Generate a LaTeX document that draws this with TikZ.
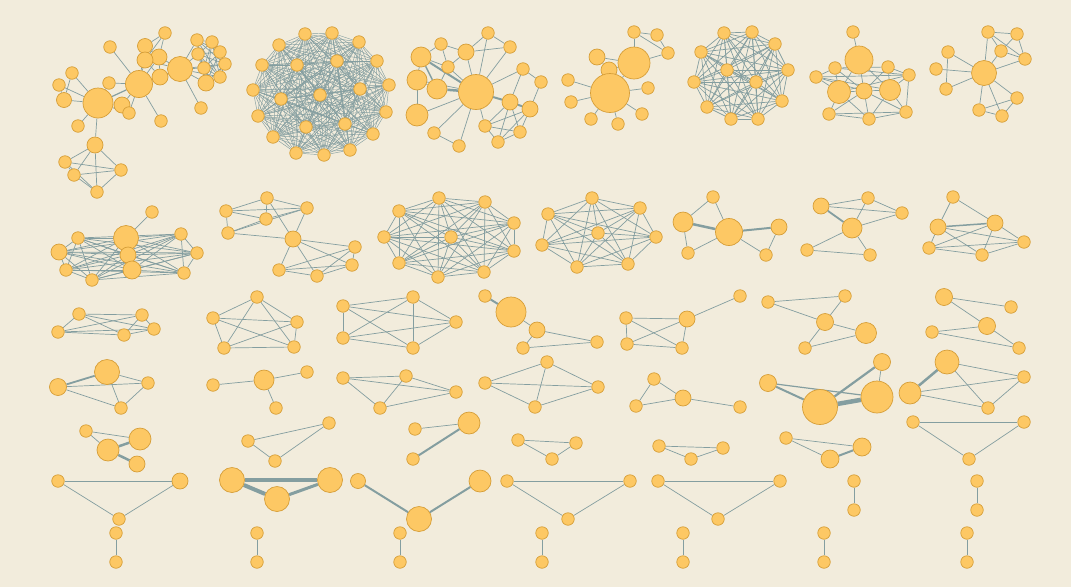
\documentclass[tikz,border=0pt]{standalone}
\usepackage{tikz}

\definecolor{bgpaper}{RGB}{242,236,220}
\definecolor{nodefill}{RGB}{253,200,100}
\definecolor{nodeline}{RGB}{214,158,56}
\definecolor{linkcol}{RGB}{132,158,160}

\pgfdeclarelayer{paper}
\pgfdeclarelayer{edges}
\pgfsetlayers{paper,edges,main}

\begin{document}
\begin{tikzpicture}[
    x=1pt, y=-1pt,
    vtx/.style={circle, draw=nodeline, fill=nodefill, line width=0.7pt, inner sep=0pt, minimum size=#1},
    vtx/.default=12.5pt,
    link/.style={draw=linkcol, line width=0.7pt},
    heavy/.style={link, line width=#1},
    heavy/.default=2.5pt,
    dense/.style={link, line width=0.45pt}
]
    \useasboundingbox (0,0) rectangle (1071,587);
    \begin{pgfonlayer}{paper}
        \fill[bgpaper] (0,0) rectangle (1071,587);
    \end{pgfonlayer}

    % --- row 1 ---
    \node (a1) [vtx] at (165,33) {};
    \node (a2) [vtx] at (110,47) {};
    \node (a3) [vtx=15pt] at (145,46) {};
    \node (a4) [vtx=16pt] at (159,57) {};
    \node (a5) [vtx=16pt] at (145,60) {};
    \node (a6) [vtx=25pt] at (180,69) {};
    \node (a7) [vtx=16pt] at (160,77) {};
    \node (a8) [vtx=27pt] at (139,84) {};
    \node (a9) [vtx] at (109,83) {};
    \node (a10) [vtx=30pt] at (98,103) {};
    \node (a11) [vtx=16pt] at (122,105) {};
    \node (a12) [vtx] at (129,113) {};
    \node (a13) [vtx] at (161,121) {};
    \node (a14) [vtx] at (72,73) {};
    \node (a15) [vtx] at (59,85) {};
    \node (a16) [vtx=15pt] at (64,100) {};
    \node (a17) [vtx] at (78,126) {};
    \node (a18) [vtx=16pt] at (95,145) {};
    \node (a19) [vtx] at (65,162) {};
    \node (a20) [vtx] at (74,175) {};
    \node (a21) [vtx] at (121,170) {};
    \node (a22) [vtx] at (97,192) {};
    \node (a23) [vtx] at (197,40) {};
    \node (a24) [vtx] at (212,42) {};
    \node (a25) [vtx] at (198,54) {};
    \node (a26) [vtx] at (220,52) {};
    \node (a27) [vtx] at (225,64) {};
    \node (a28) [vtx] at (204,68) {};
    \node (a29) [vtx] at (220,77) {};
    \node (a30) [vtx=16pt] at (206,83) {};
    \node (a31) [vtx] at (201,108) {};

    \node (b1) [vtx] at (305,34) {};
    \node (b2) [vtx] at (332,33) {};
    \node (b3) [vtx] at (359,42) {};
    \node (b4) [vtx] at (377,61) {};
    \node (b5) [vtx] at (389,85) {};
    \node (b6) [vtx] at (386,112) {};
    \node (b7) [vtx] at (373,134) {};
    \node (b8) [vtx] at (350,150) {};
    \node (b9) [vtx] at (324,155) {};
    \node (b10) [vtx] at (296,153) {};
    \node (b11) [vtx] at (273,137) {};
    \node (b12) [vtx] at (258,116) {};
    \node (b13) [vtx] at (253,90) {};
    \node (b14) [vtx] at (262,65) {};
    \node (b15) [vtx] at (279,45) {};
    \node (b16) [vtx] at (297,65) {};
    \node (b17) [vtx] at (337,61) {};
    \node (b18) [vtx] at (360,89) {};
    \node (b19) [vtx] at (320,95) {};
    \node (b20) [vtx] at (281,99) {};
    \node (b21) [vtx] at (306,127) {};
    \node (b22) [vtx] at (345,124) {};

    \node (c1) [vtx] at (488,33) {};
    \node (c2) [vtx] at (441,44) {};
    \node (c3) [vtx] at (510,47) {};
    \node (c4) [vtx=20pt] at (421,57) {};
    \node (c5) [vtx=16pt] at (466,52) {};
    \node (c6) [vtx] at (448,67) {};
    \node (c7) [vtx=20pt] at (417,80) {};
    \node (c8) [vtx=20pt] at (437,89) {};
    \node (c9) [vtx=35pt] at (476,92) {};
    \node (c10) [vtx] at (523,69) {};
    \node (c11) [vtx] at (541,82) {};
    \node (c12) [vtx=16pt] at (510,102) {};
    \node (c13) [vtx=16pt] at (530,109) {};
    \node (c14) [vtx=22pt] at (417,115) {};
    \node (c15) [vtx] at (485,126) {};
    \node (c16) [vtx] at (520,132) {};
    \node (c17) [vtx] at (434,133) {};
    \node (c18) [vtx] at (498,142) {};
    \node (c19) [vtx] at (459,146) {};

    \node (d1) [vtx] at (634,32) {};
    \node (d2) [vtx] at (657,35) {};
    \node (d3) [vtx] at (668,53) {};
    \node (d4) [vtx=16pt] at (597,57) {};
    \node (d5) [vtx=32pt] at (634,63) {};
    \node (d6) [vtx=16pt] at (609,70) {};
    \node (d7) [vtx=39pt] at (610,93) {};
    \node (d8) [vtx] at (568,80) {};
    \node (d9) [vtx] at (571,102) {};
    \node (d10) [vtx] at (648,88) {};
    \node (d11) [vtx] at (591,119) {};
    \node (d12) [vtx] at (618,124) {};
    \node (d13) [vtx] at (642,114) {};

    \node (e1) [vtx] at (724,33) {};
    \node (e2) [vtx] at (752,32) {};
    \node (e3) [vtx] at (775,44) {};
    \node (e4) [vtx] at (701,52) {};
    \node (e5) [vtx] at (727,70) {};
    \node (e6) [vtx] at (788,70) {};
    \node (e7) [vtx] at (694,82) {};
    \node (e8) [vtx] at (756,82) {};
    \node (e9) [vtx] at (782,101) {};
    \node (e10) [vtx] at (707,107) {};
    \node (e11) [vtx] at (731,119) {};
    \node (e12) [vtx] at (758,119) {};

    \node (f1) [vtx] at (853,32) {};
    \node (f2) [vtx=28pt] at (859,60) {};
    \node (f3) [vtx] at (835,68) {};
    \node (f4) [vtx] at (888,67) {};
    \node (f5) [vtx] at (816,77) {};
    \node (f6) [vtx] at (909,75) {};
    \node (f7) [vtx=23pt] at (839,92) {};
    \node (f8) [vtx=16pt] at (864,91) {};
    \node (f9) [vtx=21pt] at (890,90) {};
    \node (f10) [vtx] at (829,114) {};
    \node (f11) [vtx] at (869,119) {};
    \node (f12) [vtx] at (906,112) {};

    \node (g1) [vtx] at (988,32) {};
    \node (g2) [vtx] at (1017,34) {};
    \node (g3) [vtx] at (1001,51) {};
    \node (g4) [vtx] at (1025,59) {};
    \node (g5) [vtx] at (948,52) {};
    \node (g6) [vtx] at (936,69) {};
    \node (g7) [vtx=25pt] at (984,73) {};
    \node (g8) [vtx] at (946,89) {};
    \node (g9) [vtx] at (1017,98) {};
    \node (g10) [vtx] at (979,110) {};
    \node (g11) [vtx] at (1002,116) {};

    % --- row 2 ---
    \node (h1) [vtx] at (152,212) {};
    \node (h2) [vtx] at (78,238) {};
    \node (h3) [vtx=25pt] at (126,238) {};
    \node (h4) [vtx] at (181,234) {};
    \node (h5) [vtx=16pt] at (59,252) {};
    \node (h6) [vtx=16pt] at (128,255) {};
    \node (h7) [vtx] at (197,253) {};
    \node (h8) [vtx] at (66,270) {};
    \node (h9) [vtx=18pt] at (132,270) {};
    \node (h10) [vtx] at (184,273) {};
    \node (h11) [vtx] at (92,280) {};

    \node (i1) [vtx] at (267,198) {};
    \node (i2) [vtx] at (226,211) {};
    \node (i3) [vtx] at (307,208) {};
    \node (i4) [vtx] at (266,219) {};
    \node (i5) [vtx] at (228,233) {};
    \node (i6) [vtx=16pt] at (293,239) {};
    \node (i7) [vtx] at (355,247) {};
    \node (i8) [vtx] at (352,265) {};
    \node (i9) [vtx] at (279,270) {};
    \node (i10) [vtx] at (317,276) {};

    \node (j1) [vtx] at (439,198) {};
    \node (j2) [vtx] at (485,202) {};
    \node (j3) [vtx] at (399,211) {};
    \node (j4) [vtx] at (514,223) {};
    \node (j5) [vtx] at (384,237) {};
    \node (j6) [vtx] at (451,237) {};
    \node (j7) [vtx] at (514,251) {};
    \node (j8) [vtx] at (399,263) {};
    \node (j9) [vtx] at (484,272) {};
    \node (j10) [vtx] at (438,277) {};

    \node (k1) [vtx] at (592,198) {};
    \node (k2) [vtx] at (640,208) {};
    \node (k3) [vtx] at (548,214) {};
    \node (k4) [vtx] at (598,233) {};
    \node (k5) [vtx] at (656,237) {};
    \node (k6) [vtx] at (542,245) {};
    \node (k7) [vtx] at (577,267) {};
    \node (k8) [vtx] at (628,264) {};

    \node (l1) [vtx] at (713,197) {};
    \node (l2) [vtx=20pt] at (683,222) {};
    \node (l3) [vtx=27pt] at (729,232) {};
    \node (l4) [vtx=16pt] at (779,227) {};
    \node (l5) [vtx] at (688,253) {};
    \node (l6) [vtx] at (766,255) {};

    \node (m1) [vtx=16pt] at (821,206) {};
    \node (m2) [vtx] at (868,198) {};
    \node (m3) [vtx] at (902,213) {};
    \node (m4) [vtx=20pt] at (852,228) {};
    \node (m5) [vtx] at (807,250) {};
    \node (m6) [vtx] at (870,255) {};

    \node (n1) [vtx] at (953,197) {};
    \node (n2) [vtx=16pt] at (938,227) {};
    \node (n3) [vtx=16pt] at (995,223) {};
    \node (n4) [vtx] at (929,248) {};
    \node (n5) [vtx] at (982,255) {};
    \node (n6) [vtx] at (1024,242) {};

    % --- row 3 ---
    \node (o1) [vtx] at (79,314) {};
    \node (o2) [vtx] at (142,315) {};
    \node (o3) [vtx] at (58,332) {};
    \node (o4) [vtx] at (124,335) {};
    \node (o5) [vtx] at (154,329) {};

    \node (p1) [vtx] at (257,297) {};
    \node (p2) [vtx] at (213,318) {};
    \node (p3) [vtx] at (297,322) {};
    \node (p4) [vtx] at (224,348) {};
    \node (p5) [vtx] at (294,347) {};

    \node (q1) [vtx] at (413,297) {};
    \node (q2) [vtx] at (343,306) {};
    \node (q3) [vtx] at (456,322) {};
    \node (q4) [vtx] at (343,338) {};
    \node (q5) [vtx] at (413,348) {};

    \node (r1) [vtx] at (485,296) {};
    \node (r2) [vtx=30pt] at (511,312) {};
    \node (r3) [vtx=16pt] at (537,330) {};
    \node (r4) [vtx] at (523,348) {};
    \node (r5) [vtx] at (597,342) {};

    \node (s1) [vtx] at (740,296) {};
    \node (s2) [vtx] at (626,318) {};
    \node (s3) [vtx=16pt] at (687,319) {};
    \node (s4) [vtx] at (627,344) {};
    \node (s5) [vtx] at (682,348) {};

    \node (t1) [vtx] at (768,302) {};
    \node (t2) [vtx] at (845,296) {};
    \node (t3) [vtx=17pt] at (825,322) {};
    \node (t4) [vtx=21pt] at (866,333) {};
    \node (t5) [vtx] at (805,348) {};

    \node (u1) [vtx=17pt] at (944,297) {};
    \node (u2) [vtx] at (1011,307) {};
    \node (u3) [vtx=17pt] at (987,326) {};
    \node (u4) [vtx] at (932,332) {};
    \node (u5) [vtx] at (1019,348) {};

    % --- row 4 ---
    \node (v1) [vtx=25pt] at (107,372) {};
    \node (v2) [vtx=17pt] at (58,387) {};
    \node (v3) [vtx] at (148,383) {};
    \node (v4) [vtx] at (121,408) {};

    \node (w1) [vtx] at (213,385) {};
    \node (w2) [vtx=20pt] at (264,380) {};
    \node (w3) [vtx] at (307,372) {};
    \node (w4) [vtx] at (276,408) {};

    \node (x1) [vtx] at (343,378) {};
    \node (x2) [vtx] at (406,376) {};
    \node (x3) [vtx] at (456,392) {};
    \node (x4) [vtx] at (380,408) {};

    \node (y1) [vtx] at (547,362) {};
    \node (y2) [vtx] at (485,383) {};
    \node (y3) [vtx] at (598,387) {};
    \node (y4) [vtx] at (535,407) {};

    \node (z1) [vtx] at (654,379) {};
    \node (z2) [vtx=16pt] at (683,398) {};
    \node (z3) [vtx] at (636,406) {};
    \node (z4) [vtx] at (740,407) {};

    \node (za1) [vtx=17pt] at (768,383) {};
    \node (za2) [vtx=17pt] at (882,362) {};
    \node (za3) [vtx=35pt] at (820,407) {};
    \node (za4) [vtx=32pt] at (877,397) {};

    \node (zb1) [vtx=24pt] at (947,362) {};
    \node (zb2) [vtx=22pt] at (910,393) {};
    \node (zb3) [vtx] at (1024,377) {};
    \node (zb4) [vtx] at (988,408) {};

    % --- row 5 ---
    \node (ra1) [vtx] at (86,431) {};
    \node (ra2) [vtx=22pt] at (140,439) {};
    \node (ra3) [vtx=22pt] at (108,450) {};
    \node (ra4) [vtx=16pt] at (137,464) {};

    \node (rb1) [vtx] at (248,441) {};
    \node (rb2) [vtx] at (329,423) {};
    \node (rb3) [vtx] at (275,461) {};

    \node (rc1) [vtx] at (415,429) {};
    \node (rc2) [vtx=22pt] at (469,423) {};
    \node (rc3) [vtx] at (413,459) {};

    \node (rd1) [vtx] at (518,440) {};
    \node (rd2) [vtx] at (576,443) {};
    \node (rd3) [vtx] at (552,459) {};

    \node (re1) [vtx] at (659,446) {};
    \node (re2) [vtx] at (723,448) {};
    \node (re3) [vtx] at (691,459) {};

    \node (rf1) [vtx] at (786,438) {};
    \node (rf2) [vtx=18pt] at (862,447) {};
    \node (rf3) [vtx=18pt] at (830,459) {};

    \node (rg1) [vtx] at (913,422) {};
    \node (rg2) [vtx] at (1024,422) {};
    \node (rg3) [vtx] at (969,459) {};

    % --- row 6 ---
    \node (sa1) [vtx] at (58,481) {};
    \node (sa2) [vtx=16pt] at (180,481) {};
    \node (sa3) [vtx] at (119,519) {};

    \node (sb1) [vtx=25pt] at (232,480) {};
    \node (sb2) [vtx=25pt] at (330,480) {};
    \node (sb3) [vtx=25pt] at (277,499) {};

    \node (sc1) [vtx=15pt] at (358,481) {};
    \node (sc2) [vtx=22pt] at (480,481) {};
    \node (sc3) [vtx=25pt] at (419,519) {};

    \node (sd1) [vtx] at (507,481) {};
    \node (sd2) [vtx] at (630,481) {};
    \node (sd3) [vtx] at (568,519) {};

    \node (se1) [vtx] at (658,481) {};
    \node (se2) [vtx] at (780,481) {};
    \node (se3) [vtx] at (718,519) {};

    \node (sf1) [vtx] at (854,481) {};
    \node (sf2) [vtx] at (854,510) {};
    \node (sg1) [vtx] at (977,481) {};
    \node (sg2) [vtx] at (977,510) {};

    % --- row 7 ---
    \foreach \x [count=\n] in {116,257,400,542,683,824,967} {
        \node (pa\n) [vtx] at (\x,533) {};
        \node (pb\n) [vtx] at (\x,562) {};
    }

    \begin{pgfonlayer}{edges}
        % row 1
        \foreach \u/\v in {a10/a14, a10/a15, a10/a16, a15/a16, a14/a16, a10/a9, a10/a11, a10/a12, a10/a18, a10/a17,
            a8/a2, a8/a3, a8/a4, a8/a5, a8/a7, a8/a11, a8/a12, a8/a13, a8/a6, a8/a9,
            a1/a3, a1/a4, a1/a5, a3/a4, a3/a5, a4/a5, a4/a6, a4/a7, a5/a7, a7/a6, a5/a6,
            a6/a25, a6/a28, a6/a30, a6/a27, a6/a29, a6/a23, a6/a31,
            a18/a19, a18/a20, a18/a21, a18/a22, a19/a20, a19/a21, a20/a21, a20/a22, a21/a22, a19/a22}
            \draw[link] (\u) -- (\v);
        \draw[heavy=1.2pt] (a10) -- (a8);
        \foreach \i in {23,...,30} \foreach \j in {23,...,30} {\ifnum\i<\j \draw[link] (a\i) -- (a\j);\fi}

        \foreach \i in {1,...,22} \foreach \j in {1,...,22} {\ifnum\i<\j \draw[dense] (b\i) -- (b\j);\fi}

        \foreach \u/\v in {c9/c7, c9/c6, c9/c5, c9/c1, c9/c3, c9/c15, c9/c19, c9/c17, c9/c14, c9/c10,
            c4/c2, c4/c7, c4/c6, c2/c5, c2/c6, c5/c1, c5/c3, c1/c3, c5/c6, c7/c8, c7/c14, c8/c6,
            c12/c10, c13/c11, c10/c11, c12/c15, c12/c16, c13/c16, c13/c18, c15/c16, c15/c18,
            c16/c18, c13/c15, c12/c18, c17/c19}
            \draw[link] (\u) -- (\v);
        \draw[heavy=2pt] (c9) -- (c4);
        \draw[heavy] (c9) -- (c8);
        \draw[heavy=1.5pt] (c4) -- (c8);
        \draw[heavy=2pt] (c9) -- (c12);
        \draw[heavy=2pt] (c12) -- (c13);

        \foreach \u/\v in {d7/d8, d7/d9, d7/d10, d7/d11, d7/d12, d7/d13, d7/d6, d7/d5, d4/d5, d5/d1, d5/d3,
            d1/d2, d2/d3, d1/d3, d4/d6, d6/d5}
            \draw[link] (\u) -- (\v);

        \foreach \i in {1,...,12} \foreach \j in {1,...,12} {\ifnum\i<\j \draw[link] (e\i) -- (e\j);\fi}

        \foreach \u/\v in {f1/f2, f2/f7, f2/f8, f2/f9, f3/f5, f3/f6, f3/f4, f4/f6, f5/f6, f5/f7, f5/f8, f5/f9,
            f3/f7, f3/f8, f4/f8, f4/f9, f6/f7, f6/f9, f7/f8, f8/f9, f7/f10, f7/f11, f8/f10, f8/f11,
            f9/f11, f9/f12, f10/f11, f11/f12, f10/f12, f6/f12, f8/f12}
            \draw[link] (\u) -- (\v);

        \foreach \u/\v in {g7/g1, g7/g3, g7/g4, g7/g5, g7/g6, g7/g8, g7/g9, g7/g10, g7/g11, g1/g2, g1/g3,
            g1/g4, g2/g3, g2/g4, g3/g4, g5/g8, g9/g10, g9/g11, g10/g11}
            \draw[link] (\u) -- (\v);

        % row 2
        \draw[link] (h1) -- (h3);
        \foreach \i in {2,...,11} \foreach \j in {2,...,11} {\ifnum\i<\j \draw[link] (h\i) -- (h\j);\fi}

        \foreach \u/\v in {i1/i2, i1/i3, i1/i4, i2/i4, i2/i5, i2/i3, i4/i3, i5/i4, i5/i3, i5/i6, i3/i6, i1/i6,
            i6/i7, i6/i9, i6/i10, i6/i8, i7/i9, i7/i8, i8/i9, i8/i10, i9/i10, i7/i10}
            \draw[link] (\u) -- (\v);

        \foreach \i in {1,...,10} \foreach \j in {1,...,10} {\ifnum\i<\j \draw[link] (j\i) -- (j\j);\fi}
        \foreach \i in {1,...,8} \foreach \j in {1,...,8} {\ifnum\i<\j \draw[link] (k\i) -- (k\j);\fi}

        \foreach \u/\v in {l1/l2, l1/l3, l2/l5, l5/l3, l3/l6, l4/l6}
            \draw[link] (\u) -- (\v);
        \draw[heavy] (l2) -- (l3);
        \draw[heavy=2pt] (l3) -- (l4);

        \foreach \u/\v in {m1/m2, m1/m3, m2/m3, m2/m4, m4/m3, m4/m5, m4/m6, m5/m6}
            \draw[link] (\u) -- (\v);
        \draw[heavy=1.8pt] (m1) -- (m4);

        \foreach \u/\v in {n1/n2, n1/n3, n2/n4, n2/n5, n2/n6, n3/n4, n3/n5, n3/n6, n4/n5, n4/n6, n5/n6}
            \draw[link] (\u) -- (\v);
        \draw[heavy=1.5pt] (n2) -- (n3);

        % row 3
        \foreach \i in {1,...,5} \foreach \j in {1,...,5} {\ifnum\i<\j
            \draw[link] (o\i) -- (o\j);
            \draw[link] (p\i) -- (p\j);
            \draw[link] (q\i) -- (q\j);
        \fi}

        \draw[heavy=2pt] (r1) -- (r2);
        \foreach \u/\v in {r2/r3, r3/r4, r3/r5, r4/r5, s1/s3, s2/s3, s2/s4, s2/s5, s3/s4, s3/s5, s4/s5,
            t1/t2, t1/t3, t2/t3, t3/t4, t3/t5, t5/t4, u1/u2, u1/u3, u3/u4, u3/u5, u4/u5}
            \draw[link] (\u) -- (\v);

        % row 4
        \draw[heavy=1.8pt] (v1) -- (v2);
        \foreach \u/\v in {v1/v3, v1/v4, v2/v3, v2/v4, v3/v4, w1/w2, w2/w3, w2/w4,
            x1/x2, x1/x3, x1/x4, x2/x3, x2/x4, x3/x4, y2/y1, y2/y3, y2/y4, y1/y3, y1/y4, y4/y3,
            z1/z2, z1/z3, z3/z2, z2/z4, za2/za4, zb1/zb3, zb1/zb4, zb2/zb3, zb2/zb4, zb3/zb4}
            \draw[link] (\u) -- (\v);
        \draw[heavy=2pt] (za1) -- (za3);
        \draw[heavy=1.2pt] (za1) -- (za4);
        \draw[heavy=2.2pt] (za3) -- (za2);
        \draw[heavy=4.5pt] (za3) -- (za4);
        \draw[heavy] (zb1) -- (zb2);

        % row 5
        \foreach \u/\v in {ra1/ra2, ra1/ra3, rb1/rb2, rb1/rb3, rb2/rb3, rc1/rc2, rd1/rd2, rd1/rd3, rd2/rd3,
            re1/re2, re1/re3, re2/re3, rf1/rf2, rf1/rf3, rg1/rg2, rg1/rg3, rg2/rg3}
            \draw[link] (\u) -- (\v);
        \draw[heavy] (ra2) -- (ra3);
        \draw[heavy] (ra3) -- (ra4);
        \draw[heavy=2pt] (rc2) -- (rc3);
        \draw[heavy=2pt] (rf2) -- (rf3);

        % row 6 and 7
        \foreach \u/\v in {sa1/sa2, sa1/sa3, sa2/sa3, sd1/sd2, sd1/sd3, sd2/sd3, se1/se2, se1/se3, se2/se3,
            sf1/sf2, sg1/sg2}
            \draw[link] (\u) -- (\v);
        \draw[heavy=4pt] (sb1) -- (sb2);
        \draw[heavy=4pt] (sb1) -- (sb3);
        \draw[heavy=3pt] (sb3) -- (sb2);
        \draw[heavy=2pt] (sc1) -- (sc3);
        \draw[heavy=2pt] (sc3) -- (sc2);
        \foreach \n in {1,...,7} \draw[link] (pa\n) -- (pb\n);
    \end{pgfonlayer}
\end{tikzpicture}
\end{document}
